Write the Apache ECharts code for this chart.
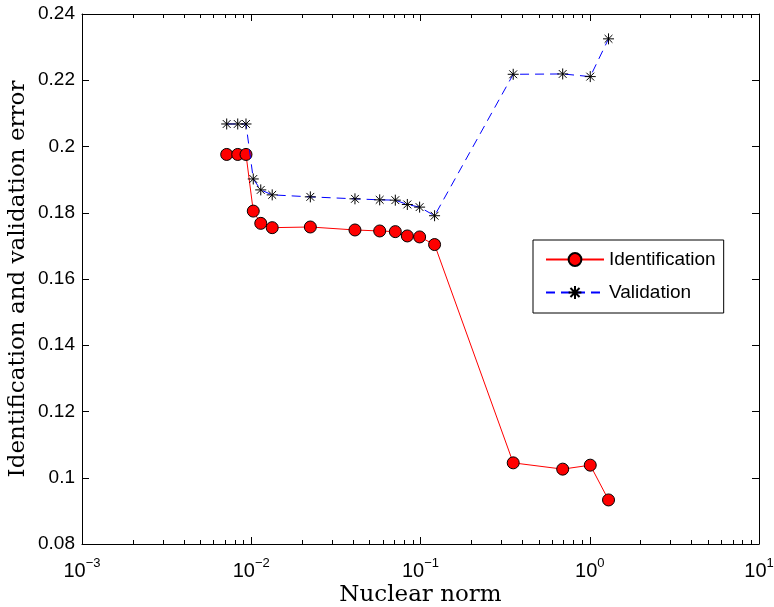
<!DOCTYPE html>
<html>
<head>
<meta charset="utf-8">
<script src="https://cdn.jsdelivr.net/npm/echarts@6/dist/echarts.min.js"></script>
<style>
  html, body { margin: 0; padding: 0; background: #fff; }
  #chart { width: 774px; height: 607px; }
</style>
</head>
<body>
<div id="chart"></div>
<script>
// data
let nuclearNorm = [0.00716, 0.00832, 0.00931, 0.01028, 0.01138, 0.0133, 0.02234, 0.041, 0.0574, 0.071, 0.0836, 0.0988, 0.1211, 0.353, 0.692, 1.007, 1.291]
let identErr = [0.1976, 0.1976, 0.1976, 0.1805, 0.1768, 0.1755, 0.1757, 0.1748, 0.1745, 0.1743, 0.1730, 0.1727, 0.1704, 0.1045, 0.1026, 0.1038, 0.0933]
let validErr = [0.2068, 0.2068, 0.2068, 0.1902, 0.1869, 0.1854, 0.1848, 0.1842, 0.1839, 0.1838, 0.1825, 0.1817, 0.1791, 0.2218, 0.2219, 0.2211, 0.2325]
let decades = [0.001, 0.01, 0.1, 1, 10]
let yMin = 0.08, yMax = 0.24, yStep = 0.02

let minorTicks = []
for (let d = 0; d < decades.length - 1; d++) {
  for (let k = 2; k <= 9; k++) minorTicks.push(decades[d] * k)
}

function pairs(xs, ys) {
  return xs.map(function (x, i) { return [x, ys[i]] })
}

let chart = echarts.init(document.getElementById('chart'))

let sansFont = 'Liberation Sans'
let serifFont = 'DejaVu Serif'

function xAxisDef(pos, ticks, len, main) {
  return {
    type: 'log',
    logBase: 10,
    min: decades[0],
    max: decades[decades.length - 1],
    position: pos,
    axisLine: { show: main, lineStyle: { color: '#000', width: 1 } },
    axisTick: { show: true, inside: true, length: len, customValues: ticks, lineStyle: { color: '#000', width: 1 } },
    axisLabel: { show: false },
    splitLine: { show: false },
    minorTick: { show: false }
  }
}

let xBottom = xAxisDef('bottom', decades, 7, true)
xBottom.axisLabel = {
  show: true,
  customValues: decades,
  margin: 17,
  color: '#000',
  fontSize: 19,
  fontFamily: sansFont,
  formatter: function (v) {
    let e = Math.round(Math.log10(v))
    let s = e < 0 ? '\u2212' + (-e) : '' + e
    return '{b|10}{e|' + s + '}'
  },
  rich: {
    b: { fontSize: 20, fontFamily: sansFont, color: '#000', lineHeight: 20, verticalAlign: 'bottom' },
    e: { fontSize: 13, fontFamily: sansFont, color: '#000', lineHeight: 14, padding: [0, 0, 15, 0] }
  }
}
xBottom.name = 'Nuclear norm'
xBottom.nameLocation = 'middle'
xBottom.nameGap = 40
xBottom.nameMoveOverlap = false
xBottom.nameTextStyle = { fontFamily: serifFont, fontSize: 23, color: '#000' }

let option = {
  animation: false,
  backgroundColor: '#fff',
  grid: { left: 82, right: 15, top: 14, bottom: 63, containLabel: false, outerBoundsMode: 'none' },
  xAxis: [
    xBottom,
    xAxisDef('bottom', minorTicks, 4, false),
    xAxisDef('top', decades, 7, true),
    xAxisDef('top', minorTicks, 4, false)
  ],
  yAxis: [
    {
      type: 'value',
      min: yMin,
      max: yMax,
      interval: yStep,
      position: 'left',
      name: 'Identification and validation error',
      nameLocation: 'middle',
      nameGap: 52,
      nameMoveOverlap: false,
      nameTextStyle: { fontFamily: serifFont, fontSize: 23, color: '#000' },
      axisLine: { show: true, lineStyle: { color: '#000', width: 1 } },
      axisTick: { show: true, inside: true, length: 7, lineStyle: { color: '#000' } },
      axisLabel: {
        color: '#000', fontSize: 19, fontFamily: sansFont, margin: 7,
        formatter: function (v) { return String(Math.round(v * 100) / 100) }
      },
      splitLine: { show: false }
    },
    {
      type: 'value',
      min: yMin,
      max: yMax,
      interval: yStep,
      position: 'right',
      axisLine: { show: true, lineStyle: { color: '#000', width: 1 } },
      axisTick: { show: true, inside: true, length: 7, lineStyle: { color: '#000' } },
      axisLabel: { show: false },
      splitLine: { show: false }
    }
  ],
  legend: {
    orient: 'vertical',
    left: 533,
    top: 240,
    padding: [10, 8, 11, 12],
    itemGap: 14,
    itemWidth: 58,
    itemHeight: 16,
    backgroundColor: '#fff',
    borderColor: '#000',
    borderWidth: 1,
    borderRadius: 0,
    textStyle: { fontFamily: sansFont, fontSize: 19, color: '#000' },
    data: ['Identification', 'Validation']
  },
  series: [
    {
      name: 'Identification',
      type: 'line',
      data: pairs(nuclearNorm, identErr),
      symbol: 'circle',
      symbolSize: 12,
      lineStyle: { color: '#ff0000', width: 1 },
      itemStyle: { color: '#ff0000', borderColor: '#000', borderWidth: 1 },
      z: 3
    },
    {
      name: 'Validation',
      type: 'line',
      data: pairs(nuclearNorm, validErr),
      symbol: 'path://M0,-5.5L0,5.5M-5.5,0L5.5,0M-3.9,-3.9L3.9,3.9M-3.9,3.9L3.9,-3.9',
      symbolSize: 11,
      lineStyle: { color: '#0000ff', width: 1, type: [9, 6] },
      itemStyle: { color: '#000', borderColor: '#000', borderWidth: 1 },
      z: 4
    }
  ]
}

chart.setOption(option)
</script>
</body>
</html>
